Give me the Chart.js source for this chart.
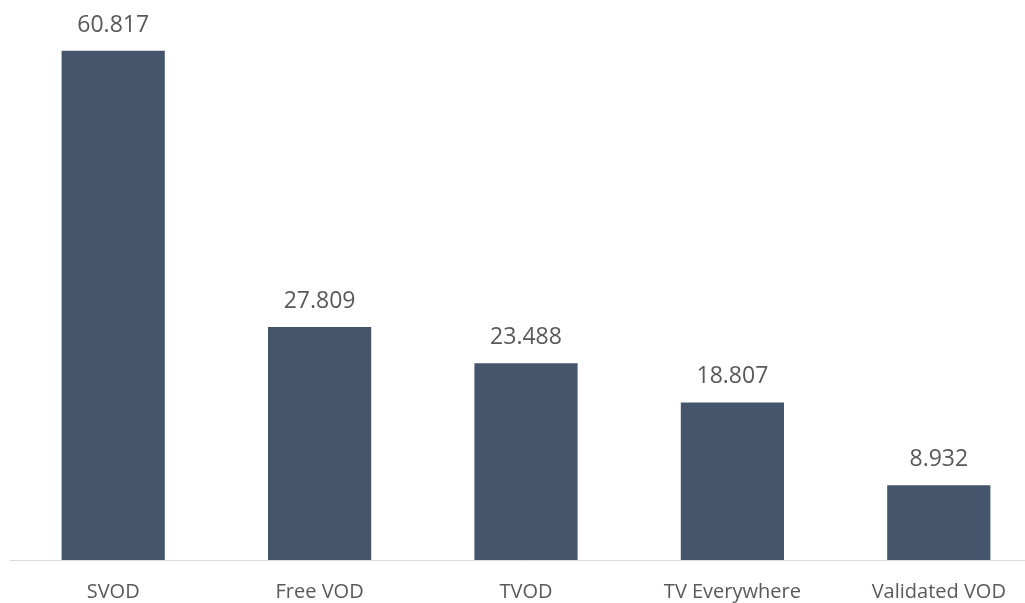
<!DOCTYPE html>
<html>
<head>
<meta charset="utf-8">
<script src="https://cdn.jsdelivr.net/npm/chart.js@4/dist/chart.umd.min.js"></script>
<style>
    html, body { margin: 0; padding: 0; background: #fff; overflow: hidden; }
    #wrap { width: 1025px; height: 603px; overflow: hidden; position: relative; }
    #chart { position: absolute; left: 0; top: 0; }
</style>
</head>
<body>
<div id="wrap"><canvas id="chart" width="1052" height="624"></canvas></div>
<script>
// values
const categories = ['SVOD', 'Free VOD', 'TVOD', 'TV Everywhere', 'Validated VOD'];
const values = [60.817, 27.809, 23.488, 18.807, 8.932];
const valueLabels = ['60.817', '27.809', '23.488', '18.807', '8.932'];

const barColor = '#44546A';
const textColor = '#595959';

// draws the number above each bar
const valueLabelPlugin = {
    id: 'valueLabels',
    afterDatasetsDraw(chart) {
        const ctx = chart.ctx;
        const meta = chart.getDatasetMeta(0);
        ctx.save();
        ctx.font = '23px "Open Sans", sans-serif';
        ctx.fillStyle = textColor;
        ctx.textAlign = 'center';
        ctx.textBaseline = 'alphabetic';
        meta.data.forEach((bar, i) => {
            ctx.fillText(valueLabels[i], bar.x, bar.y - 19);
        });
        ctx.restore();
    }
};

new Chart(document.getElementById('chart'), {
    type: 'bar',
    data: {
        labels: categories,
        datasets: [{
            data: values,
            backgroundColor: barColor,
            barPercentage: 0.5,
            categoryPercentage: 1.0
        }]
    },
    options: {
        responsive: false,
        animation: false,
        layout: { padding: { left: 10, right: 10, top: 10, bottom: 0 } },
        plugins: {
            legend: { display: false },
            tooltip: { enabled: false }
        },
        scales: {
            y: {
                display: false,
                min: 0,
                max: 65.67
            },
            x: {
                grid: { display: false, drawTicks: false },
                border: { display: true, color: '#D9D9D9', width: 1 },
                ticks: {
                    color: textColor,
                    font: { family: '"Open Sans", sans-serif', size: 20 },
                    padding: 20,
                    maxRotation: 0
                }
            }
        }
    },
    plugins: [valueLabelPlugin]
});
</script>
</body>
</html>
